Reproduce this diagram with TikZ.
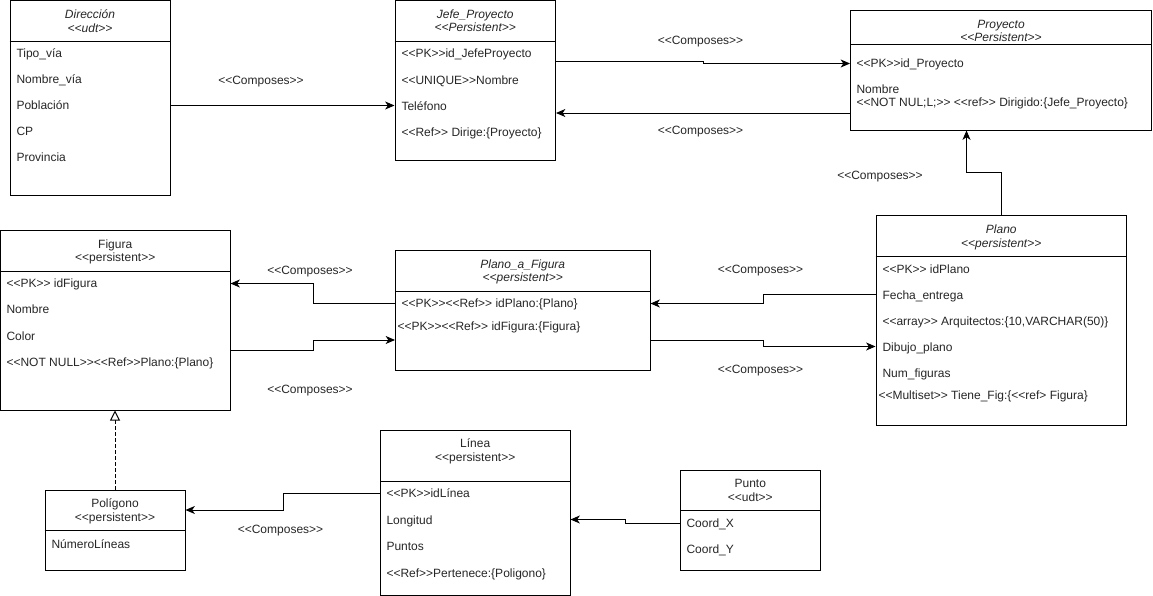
\documentclass[tikz,border=0pt]{standalone}
\usepackage{fontspec}
\setmainfont{Liberation Sans}[Ligatures=TeXOff]
\usetikzlibrary{arrows.meta,fit}

\begin{document}
\begin{tikzpicture}[line width=0.75pt, x=0.75pt, y=-0.75pt]
\tikzstyle{every node}=[font=\fontsize{9}{11}\selectfont, text=black!85, inner sep=0pt, text height=6.5pt, text depth=0.1pt]
\tikzstyle{box}=[draw=black, inner sep=0pt, text height=, text depth=]
\tikzstyle{attr}=[anchor=west]
\tikzstyle{comp}=[-{Stealth[length=7pt,width=6pt,inset=2pt]}]
\tikzstyle{gen}=[dash pattern=on 2.5pt off 2pt, -{Triangle[open,length=7.5pt,width=7.5pt,fill=white]}]
\useasboundingbox (0,0) rectangle (1153,596);
\node[box, fit={(10,0.5) (170,195)}] (dir) {};
\draw (dir.west |- 0,41) -- (dir.east |- 0,41);
\node (dirT) at (dir.north |- 0,14) {\itshape Dirección};
\node (dirS) at (dir.north |- 0,28) {\itshape <<udt>>};
\node[attr] (dir1) at (16,53) {Tipo\_vía};
\node[attr] (dir2) at (16,79.5) {Nombre\_vía};
\node[attr] (dir3) at (16,105.5) {Población};
\node[attr] (dir4) at (16,131.5) {CP};
\node[attr] (dir5) at (16,157) {Provincia};
\node[box, fit={(395,0.5) (555.5,160)}] (jefe) {};
\draw (jefe.west |- 0,41) -- (jefe.east |- 0,41);
\node (jefeT) at (jefe.north |- 0,14) {\itshape Jefe\_Proyecto};
\node (jefeS) at (jefe.north |- 0,27.5) {\itshape <<Persistent>>};
\node[attr] (jefe1) at (401,53) {<<PK>>id\_JefeProyecto};
\node[attr] (jefe2) at (401,80) {<<UNIQUE>>Nombre};
\node[attr] (jefe3) at (401,106) {Teléfono};
\node[attr] (jefe4) at (401,132) {<<Ref>> Dirige:\{Proyecto\}};
\node[box, fit={(850.5,10) (1151.5,130)}] (proy) {};
\draw (proy.west |- 0,44) -- (proy.east |- 0,44);
\node (proyT) at (proy.north |- 0,24) {\itshape Proyecto};
\node (proyS) at (proy.north |- 0,37) {\itshape <<Persistent>>};
\node[attr] (proy1) at (856,63.5) {<<PK>>id\_Proyecto};
\node[attr] (proy2) at (856,89.5) {Nombre};
\node[attr] (proy3) at (856,102.5) {<<NOT NUL;L;>> <<ref>> Dirigido:\{Jefe\_Proyecto\}};
\node[box, fit={(0.5,230) (230,410)}] (fig) {};
\draw (fig.west |- 0,271) -- (fig.east |- 0,271);
\node (figT) at (fig.north |- 0,244) {Figura};
\node (figS) at (fig.north |- 0,257) {<<persistent>>};
\node[attr] (fig1) at (6,283.5) {<<PK>> idFigura};
\node[attr] (fig2) at (6,309.5) {Nombre};
\node[attr] (fig3) at (6,336) {Color};
\node[attr] (fig4) at (6,362) {<<NOT NULL>><<Ref>>Plano:\{Plano\}};
\node[box, fit={(395.5,250) (650,370)}] (paf) {};
\draw (paf.west |- 0,291) -- (paf.east |- 0,291);
\node (pafT) at (paf.north |- 0,264) {\itshape Plano\_a\_Figura};
\node (pafS) at (paf.north |- 0,277) {\itshape <<persistent>>};
\node[attr] (paf1) at (401,303.5) {<<PK>><<Ref>> idPlano:\{Plano\}};
\node[attr] (paf2) at (397,326) {<<PK>><<Ref>> idFigura:\{Figura\}};
\node[box, fit={(876,215) (1126.5,425.5)}] (plano) {};
\draw (plano.west |- 0,256) -- (plano.east |- 0,256);
\node (planoT) at (plano.north |- 0,229) {\itshape Plano};
\node (planoS) at (plano.north |- 0,243) {\itshape <<persistent>>};
\node[attr] (plano1) at (882,269) {<<PK>> idPlano};
\node[attr] (plano2) at (882,295) {Fecha\_entrega};
\node[attr] (plano3) at (882,321) {<<array>> Arquitectos:\{10,VARCHAR(50)\}};
\node[attr] (plano4) at (882,347) {Dibujo\_plano};
\node[attr] (plano5) at (882,373) {Num\_figuras};
\node[attr] (plano6) at (878,395) {<<Multiset>> Tiene\_Fig:\{<<ref> Figura\}};
\node[box, fit={(45,490) (185,570)}] (pol) {};
\draw (pol.west |- 0,530) -- (pol.east |- 0,530);
\node (polT) at (pol.north |- 0,503.5) {Polígono};
\node (polS) at (pol.north |- 0,517) {<<persistent>>};
\node[attr] (pol1) at (51,544) {NúmeroLíneas};
\node[box, fit={(380.5,430.5) (570,595)}] (lin) {};
\draw (lin.west |- 0,481) -- (lin.east |- 0,481);
\node (linT) at (lin.north |- 0,443.5) {Línea};
\node (linS) at (lin.north |- 0,457) {<<persistent>>};
\node[attr] (lin1) at (386,493.5) {<<PK>>idLínea};
\node[attr] (lin2) at (386,520) {Longitud};
\node[attr] (lin3) at (386,546) {Puntos};
\node[attr] (lin4) at (386,573) {<<Ref>>Pertenece:\{Poligono\}};
\node[box, fit={(680.5,470.5) (820,570)}] (pun) {};
\draw (pun.west |- 0,510) -- (pun.east |- 0,510);
\node (punT) at (pun.north |- 0,483.5) {Punto};
\node (punS) at (pun.north |- 0,497) {<<udt>>};
\node[attr] (pun1) at (686,523.5) {Coord\_X};
\node[attr] (pun2) at (686,549.5) {Coord\_Y};
\draw[comp] (dir.east |- 0,105.5) -- (jefe.west |- 0,105.5);
\draw[comp] (jefe.east |- 0,61.5) -| (703,63.5) -- (proy.west |- 0,63.5);
\draw[comp] (proy.west |- 0,113) -- (jefe.east |- 0,113);
\draw[comp] (plano.north) |- (966.5,172.5) -- (proy.south -| 966.5,0);
\draw[comp] (plano.west |- 0,294) -| (763.5,303.5) -- (paf.east |- 0,303.5);
\draw[comp] (paf.east |- 0,340) -| (763.5,346.5) -- (plano.west |- 0,346.5);
\draw[comp] (paf.west |- 0,303.5) -| (313,283.5) -- (fig.east |- 0,283.5);
\draw[comp] (fig.east |- 0,350.5) -| (313,340) -- (paf.west |- 0,340);
\draw[gen] (pol.north) -- (pol.north |- fig.south);
\draw[comp] (lin.west |- 0,493.5) -| (283,510) -- (pol.east |- 0,510);
\draw[comp] (pun.west |- 0,523.5) -| (625,519.5) -- (lin.east |- 0,519.5);
\node (c1) at (261,80) {<<Composes>>};
\node (c2) at (700.5,40) {<<Composes>>};
\node (c3) at (700.5,130) {<<Composes>>};
\node (c4) at (880,175) {<<Composes>>};
\node (c5) at (310,270) {<<Composes>>};
\node (c6) at (310,389.5) {<<Composes>>};
\node (c7) at (760.5,269.5) {<<Composes>>};
\node (c8) at (760.5,369.5) {<<Composes>>};
\node (c9) at (280.5,529.5) {<<Composes>>};
\end{tikzpicture}
\end{document}
